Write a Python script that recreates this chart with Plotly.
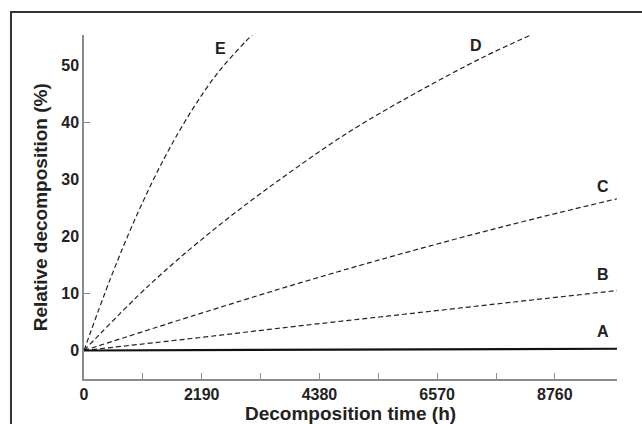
import plotly.graph_objects as go

# Data
x_E = [0, 500, 1000, 1500, 2000, 2500, 3000, 3129]
y_E = [0, 12.8, 24.1, 33.8, 42.0, 48.8, 54.1, 55.3]

x_D = [0, 1241, 2481, 3723, 4964, 6204, 7446, 8315]
y_D = [0, 11.7, 21.7, 30.5, 38.5, 45.3, 51.5, 55.3]

x_C = [0, 2000, 4000, 6000, 8000, 9916]
y_C = [0, 6.0, 11.8, 17.2, 22.2, 26.6]

x_B = [0, 2000, 4000, 6000, 8000, 9916]
y_B = [0, 2.1, 4.3, 6.4, 8.5, 10.5]

x_A = [0, 2000, 4000, 6000, 8000, 9916]
y_A = [0, 0.05, 0.1, 0.15, 0.22, 0.3]

labels = ["E", "D", "C", "B", "A"]
label_x = [2532, 7291, 9661, 9661, 9661]
label_y = [53.0, 53.5, 28.8, 13.4, 3.3]

x_ticks = [0, 2190, 4380, 6570, 8760]
x_minor = [1095, 3285, 5475, 7665]
y_ticks = [0, 10, 20, 30, 40, 50]
y_tick_marks = [10, 40]

x_range = [0, 9916]
y_range = [-5, 55.3]

ink = "#222222"
axis_col = "#8c8c8c"
font_family = "Liberation Sans, Arial, sans-serif"

fig = go.Figure()
dash_style = dict(color=ink, width=1.2, dash="5px,3px")
for xs, ys in [(x_E, y_E), (x_D, y_D), (x_C, y_C), (x_B, y_B)]:
    fig.add_trace(go.Scatter(x=xs, y=ys, mode="lines", line=dash_style,
                             line_shape="spline", showlegend=False, hoverinfo="skip"))
fig.add_trace(go.Scatter(x=x_A, y=y_A, mode="lines",
                         line=dict(color="#111111", width=2.2),
                         showlegend=False, hoverinfo="skip"))

# tick-only overlay axis for the few y tick marks
fig.add_trace(go.Scatter(x=[None], y=[None], yaxis="y2", showlegend=False, hoverinfo="skip"))

for t, lx, ly in zip(labels, label_x, label_y):
    fig.add_annotation(x=lx, y=ly, text="<b>%s</b>" % t, showarrow=False,
                       font=dict(size=16, color=ink, family=font_family))

fig.add_annotation(xref="paper", yref="paper", x=0.5, y=-0.1,
                   text="<b>Decomposition time (h)</b>", showarrow=False,
                   font=dict(size=19, color=ink, family=font_family), yanchor="middle")
fig.add_annotation(xref="paper", yref="paper", x=-0.082, y=0.5, textangle=-90,
                   text="<b>Relative decomposition (%)</b>", showarrow=False,
                   font=dict(size=19, color=ink, family=font_family), xanchor="center")

# outer frame
fig.add_shape(type="rect", xref="paper", yref="paper", x0=-0.137, x1=1.3, y0=-0.4, y1=1.0669,
              line=dict(color="#333333", width=2), layer="below")

fig.update_layout(
    width=642, height=424,
    margin=dict(l=84, r=25.3, t=35, b=45.3),
    plot_bgcolor="white", paper_bgcolor="white",
    font=dict(family=font_family, color=ink, size=16),
    xaxis=dict(range=x_range, showgrid=False, zeroline=False, showline=True,
               linecolor=axis_col, linewidth=1.5,
               tickvals=x_ticks, ticktext=["<b>%d</b>" % v for v in x_ticks],
               ticks="inside", ticklen=6, tickcolor=axis_col, tickwidth=1,
               minor=dict(tickvals=x_minor, ticks="inside", ticklen=6, tickcolor=axis_col),
               tickfont=dict(size=16, color=ink, family=font_family)),
    yaxis=dict(range=y_range, showgrid=False, zeroline=False, showline=True,
               linecolor=axis_col, linewidth=1.5,
               tickvals=y_ticks, ticktext=["<b>%d</b>" % v for v in y_ticks],
               ticks="", tickfont=dict(size=16, color=ink, family=font_family)),
    yaxis2=dict(range=y_range, overlaying="y", side="left", showgrid=False, zeroline=False,
                showline=False, tickvals=y_tick_marks, showticklabels=False,
                ticks="inside", ticklen=6, tickcolor=axis_col),
)

fig.write_html("out.html")
